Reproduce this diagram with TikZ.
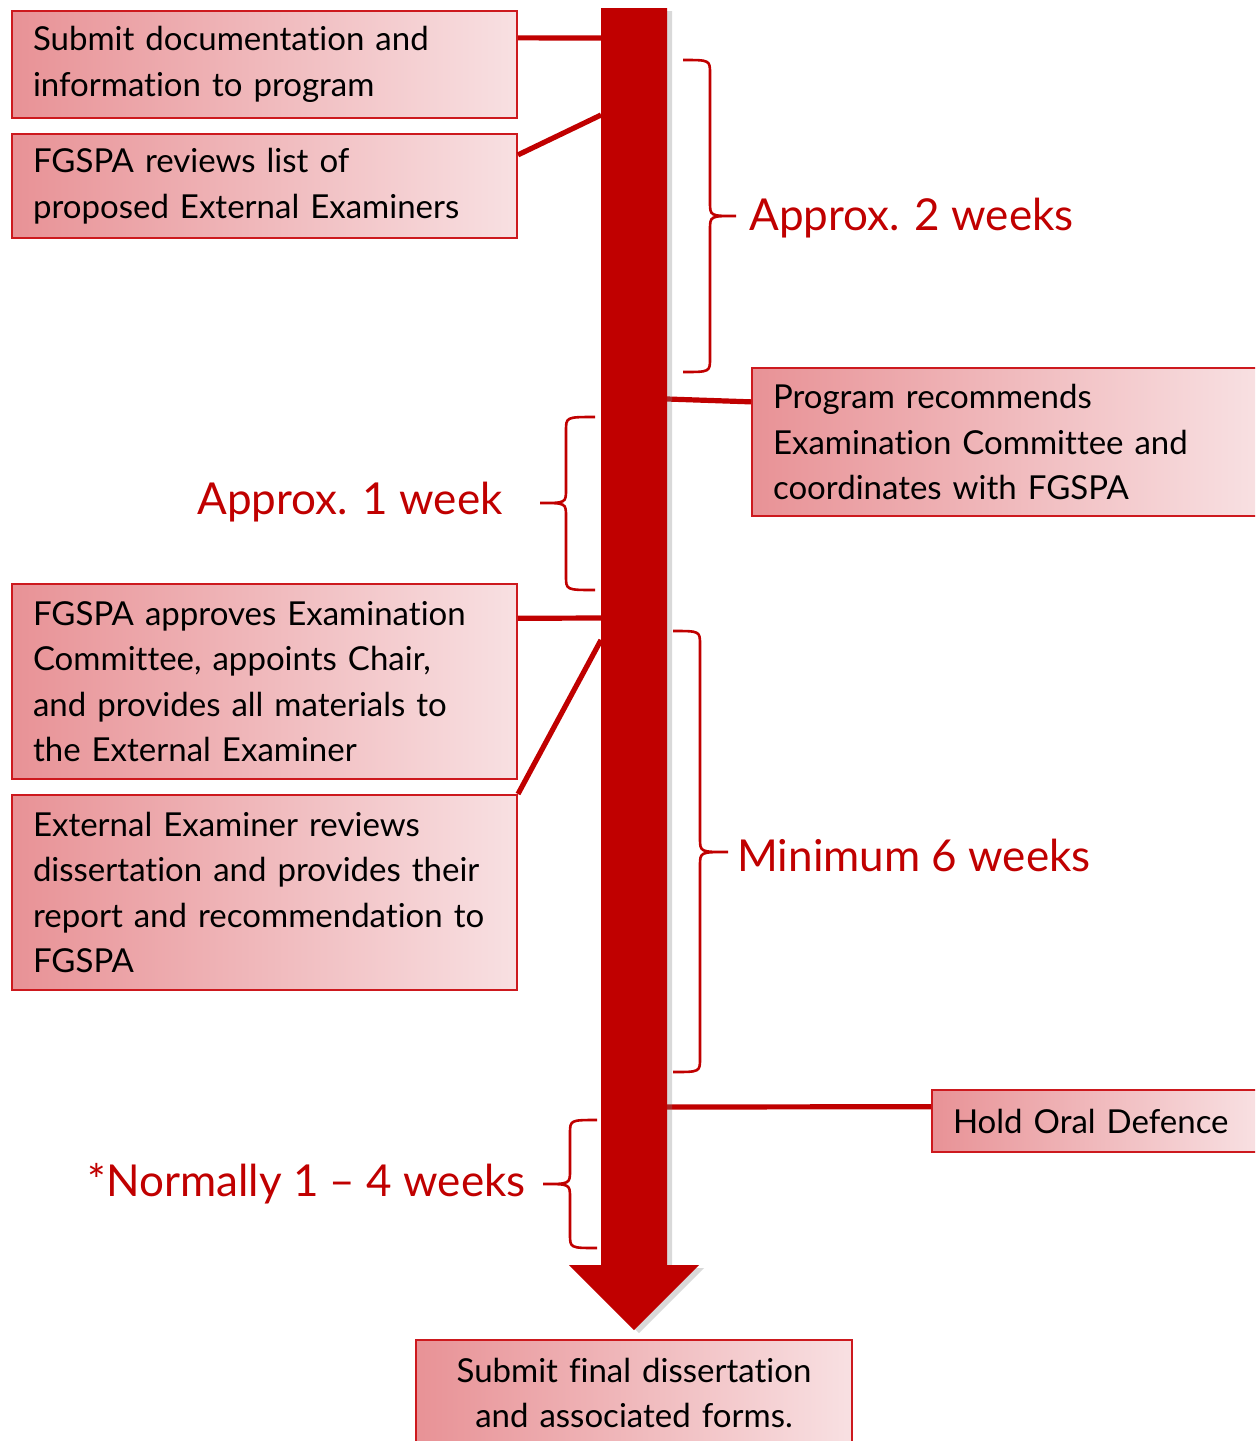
\documentclass[tikz,border=0pt]{standalone}
\usepackage{fontspec}
\setmainfont{Lato}[Ligatures=NoCommon]
\usetikzlibrary{shadows}
\definecolor{arrowred}{RGB}{192,0,0}
\definecolor{boxdark}{RGB}{232,146,150}
\definecolor{boxlight}{RGB}{248,224,226}
\definecolor{boxedge}{RGB}{205,25,30}
\tikzset{
  stepbox/.style={draw=boxedge, line width=1pt, left color=boxdark, right color=boxlight,
    inner xsep=10.5pt, inner ysep=0pt, align=left, font=\fontsize{16.5}{22.7}\selectfont},
  link/.style={draw=arrowred, line width=2.6pt},
  brace line/.style={draw=arrowred, line width=1.3pt},
  span label/.style={text=arrowred, inner sep=0pt, font=\fontsize{22}{26}\selectfont},
}

\begin{document}
\begin{tikzpicture}[x=0.5pt,y=-0.5pt]
  \useasboundingbox (0,0) rectangle (1255,1441);
  \clip (0,0) rectangle (1255,1441);

  % steps along the time line
  \node[stepbox, text width=231.5pt, minimum height=53.5pt] (docs) at (264.5,64.5)
    {Submit documentation and\\information to program};
  \node[stepbox, text width=231.5pt, minimum height=52pt] (reviews) at (264.5,186)
    {FGSPA reviews list of\\proposed External Examiners};
  \node[stepbox, text width=231.5pt, minimum height=74pt] (recommend) at (1004.5,442)
    {Program recommends\\Examination Committee and\\coordinates with FGSPA};
  \node[stepbox, text width=231.5pt, minimum height=97.5pt] (approves) at (264.5,681.5)
    {FGSPA approves Examination\\Committee, appoints Chair,\\and provides all materials to\\the External Examiner};
  \node[stepbox, text width=231.5pt, minimum height=97.5pt] (examiner) at (264.5,892.5)
    {External Examiner reviews\\dissertation and provides their\\report and recommendation to\\FGSPA};
  \node[stepbox, text width=141.5pt, minimum height=31pt] (defence) at (1094.5,1121)
    {Hold Oral Defence};
  \node[stepbox, text width=197pt, minimum height=53pt, align=center] (final) at (634,1393)
    {Submit final dissertation\\and associated forms.};

  % where the steps meet the arrow
  \coordinate (t1) at (601,38);
  \coordinate (t2) at (601,115);
  \coordinate (t3) at (667,399);
  \coordinate (t4) at (601,618);
  \coordinate (t5) at (601,640);
  \coordinate (t6) at (667,1107);

  \draw[link] (docs.6) -- (t1);
  \draw[link] (reviews.7) -- (t2);
  \draw[link] (recommend.171) -- (t3);
  \draw[link] (approves.14) -- (t4);
  \draw[link] (examiner.north east) -- (t5);
  \draw[link] (defence.175) -- (t6);

  % the arrow
  \fill[arrowred, drop shadow={shadow xshift=2.5pt, shadow yshift=-1.5pt, opacity=.3}]
    (601,8) -- (667,8) -- (667,1265) -- (699,1265) -- (634,1330) -- (569,1265)
    -- (601,1265) -- cycle;

  % braces: end x / line x / tip x / top / middle / bottom
  \foreach \xa/\xb/\xc/\ya/\ym/\yb in {683/710/736/60/216/372, 595/566/540/417/503/590,
      673/700/728/631/852/1072, 597/570/543/1120/1184/1248}
    \draw[brace line] (\xa,\ya) .. controls (\xb,\ya) .. (\xb,\ya+14) -- (\xb,\ym-14)
      .. controls (\xb,\ym) .. (\xc,\ym) .. controls (\xb,\ym) .. (\xb,\ym+14)
      -- (\xb,\yb-14) .. controls (\xb,\yb) .. (\xa,\yb);

  \node[span label, anchor=west] (twoweeks) at (749,218) {Approx. 2 weeks};
  \node[span label, anchor=east] (oneweek) at (503,502) {Approx. 1 week};
  \node[span label, anchor=west] (sixweeks) at (737,855) {Minimum 6 weeks};
  \node[span label, anchor=east] (normally) at (526,1184) {*Normally 1 – 4 weeks};
\end{tikzpicture}
\end{document}
